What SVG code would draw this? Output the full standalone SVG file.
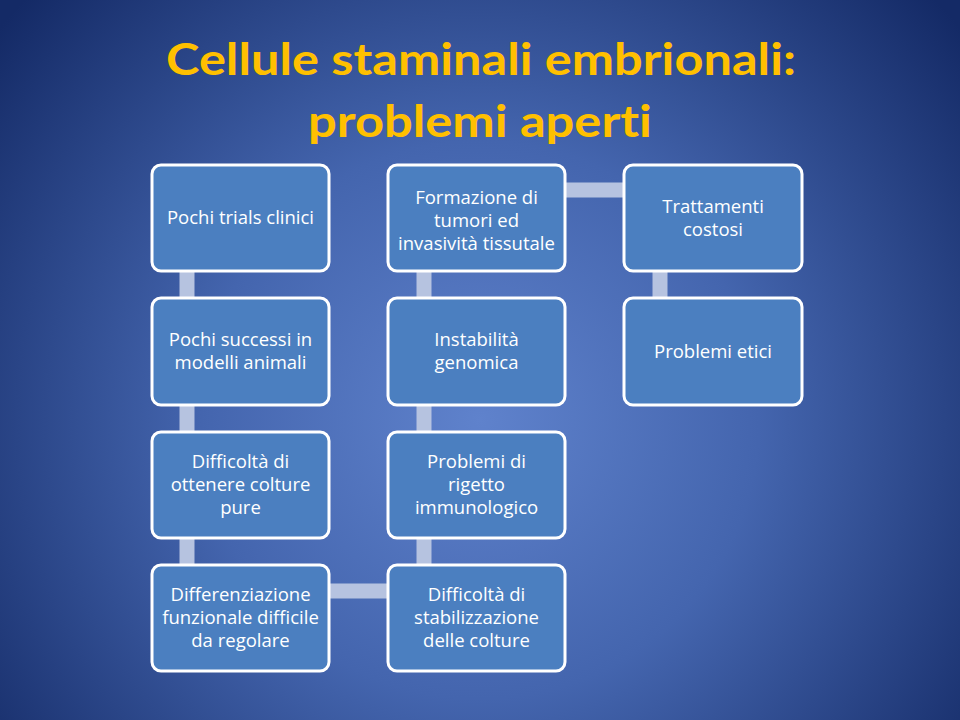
<svg xmlns="http://www.w3.org/2000/svg" width="960" height="720" viewBox="0 0 960 720">
<defs>
<radialGradient id="bg" cx="480" cy="420" r="620" gradientUnits="userSpaceOnUse">
<stop offset="0" stop-color="#5f82cc"/>
<stop offset="0.45" stop-color="#4465ae"/>
<stop offset="1" stop-color="#142a66"/>
</radialGradient>
<style>
.box{fill:#4b7fc0;stroke:#ffffff;stroke-width:3}
.lbl{font-family:"Open Sans","Liberation Sans",sans-serif;font-size:18.5px;fill:#ffffff;text-anchor:middle}
.title{font-family:Lato,"Open Sans","Liberation Sans",sans-serif;font-weight:bold;font-size:43px;fill:#ffc000;text-anchor:middle;font-variant-ligatures:none;font-feature-settings:"liga" 0,"dlig" 0}
.con{stroke:#b6c3e0;stroke-width:15;fill:none}
</style>
</defs>
<rect width="960" height="720" fill="url(#bg)"/>
<text class="title" x="481" y="75" textLength="630" lengthAdjust="spacingAndGlyphs">Cellule staminali embrionali:</text>
<text class="title" x="480" y="137" textLength="344" lengthAdjust="spacingAndGlyphs">problemi aperti</text>
<g id="connectors">
<line class="con" x1="187" y1="270" x2="187" y2="299"/>
<line class="con" x1="187" y1="404" x2="187" y2="433"/>
<line class="con" x1="187" y1="537" x2="187" y2="566"/>
<line class="con" x1="328" y1="591" x2="389" y2="591"/>
<line class="con" x1="424" y1="537" x2="424" y2="566"/>
<line class="con" x1="424" y1="404" x2="424" y2="433"/>
<line class="con" x1="424" y1="270" x2="424" y2="299"/>
<line class="con" x1="564" y1="190" x2="625" y2="190"/>
<line class="con" x1="660" y1="270" x2="660" y2="299"/>
</g>
<g id="n1"><rect class="box" x="152" y="165" width="177" height="106" rx="9"/>
<text class="lbl" x="240.5" y="224">Pochi trials clinici</text></g>
<g id="n2"><rect class="box" x="388" y="165" width="177" height="106" rx="9"/>
<text class="lbl" x="476.5" y="204">Formazione di</text>
<text class="lbl" x="476.5" y="227">tumori ed</text>
<text class="lbl" x="476.5" y="250">invasività tissutale</text></g>
<g id="n3"><rect class="box" x="624" y="165" width="178" height="106" rx="9"/>
<text class="lbl" x="713" y="213">Trattamenti</text>
<text class="lbl" x="713" y="236">costosi</text></g>
<g id="n4"><rect class="box" x="152" y="298" width="177" height="107" rx="9"/>
<text class="lbl" x="240.5" y="346">Pochi successi in</text>
<text class="lbl" x="240.5" y="369">modelli animali</text></g>
<g id="n5"><rect class="box" x="388" y="298" width="177" height="107" rx="9"/>
<text class="lbl" x="476.5" y="346">Instabilità</text>
<text class="lbl" x="476.5" y="369">genomica</text></g>
<g id="n6"><rect class="box" x="624" y="298" width="178" height="107" rx="9"/>
<text class="lbl" x="713" y="358">Problemi etici</text></g>
<g id="n7"><rect class="box" x="152" y="432" width="177" height="106" rx="9"/>
<text class="lbl" x="240.5" y="468">Difficoltà di</text>
<text class="lbl" x="240.5" y="491">ottenere colture</text>
<text class="lbl" x="240.5" y="514">pure</text></g>
<g id="n8"><rect class="box" x="388" y="432" width="177" height="106" rx="9"/>
<text class="lbl" x="476.5" y="468">Problemi di</text>
<text class="lbl" x="476.5" y="491">rigetto</text>
<text class="lbl" x="476.5" y="514">immunologico</text></g>
<g id="n9"><rect class="box" x="152" y="565" width="177" height="106" rx="9"/>
<text class="lbl" x="240.5" y="601">Differenziazione</text>
<text class="lbl" x="240.5" y="624">funzionale difficile</text>
<text class="lbl" x="240.5" y="647">da regolare</text></g>
<g id="n10"><rect class="box" x="388" y="565" width="177" height="106" rx="9"/>
<text class="lbl" x="476.5" y="601">Difficoltà di</text>
<text class="lbl" x="476.5" y="624">stabilizzazione</text>
<text class="lbl" x="476.5" y="647">delle colture</text></g>
</svg>
